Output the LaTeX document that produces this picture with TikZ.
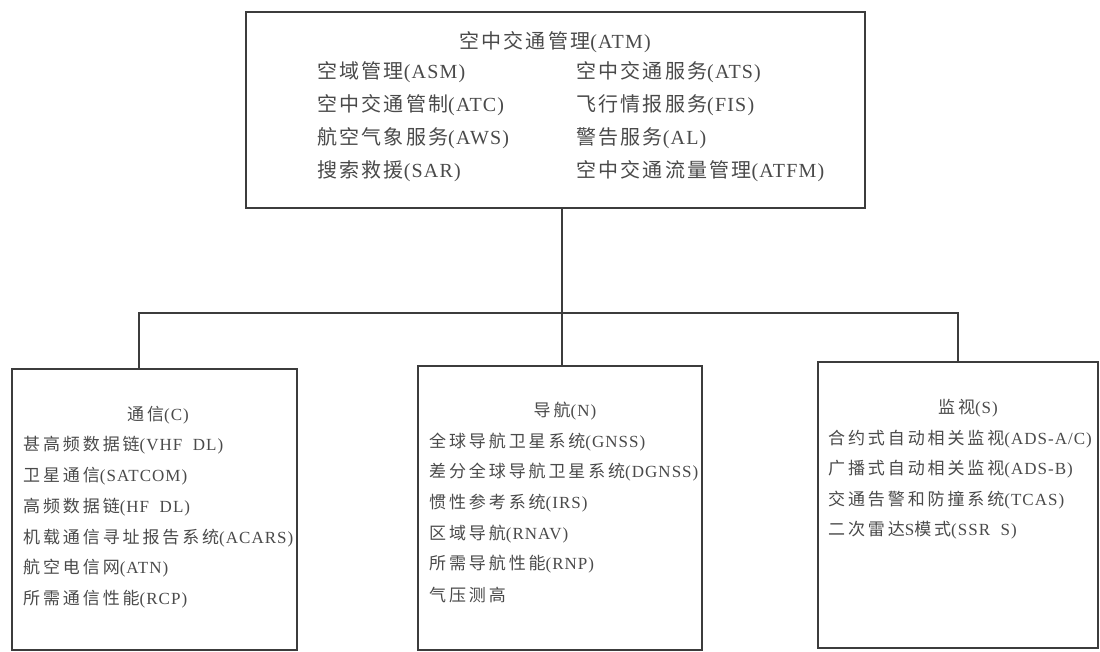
\documentclass[tikz,border=0pt]{standalone}
\usepackage{fontspec}
\setmainfont{Noto Sans CJK SC}
\newfontfamily\cjkbig[LetterSpace=11]{Noto Sans CJK SC}
\newfontfamily\cjksmall[LetterSpace=17]{Noto Sans CJK SC}
\newfontfamily\latfont[LetterSpace=6]{Liberation Serif}
\newcommand\engl[1]{{\latfont #1}}
\definecolor{ink}{HTML}{3C3C3C}
\definecolor{txtc}{HTML}{4A4A4A}
\begin{document}
\begin{tikzpicture}[x=1pt,y=-1pt,
  frame/.style={draw=ink, line width=1.8pt, inner sep=0pt, outer sep=0pt, anchor=north west},
  link/.style={draw=ink, line width=1.8pt},
  big/.style={text=txtc, font=\cjkbig\fontsize{20}{20}\selectfont, inner sep=0pt},
  small/.style={text=txtc, font=\cjksmall\fontsize{17}{17}\selectfont, inner sep=0pt}]
\useasboundingbox[fill=white] (0,0) rectangle (1100,652);

% boxes
\node[frame, minimum width=619pt, minimum height=196pt] (atm) at (246,12) {};
\node[frame, minimum width=285pt, minimum height=281pt] (com) at (12,369) {};
\node[frame, minimum width=284pt, minimum height=284pt] (nav) at (418,366) {};
\node[frame, minimum width=280pt, minimum height=286pt] (sur) at (818,362) {};

% connectors
\coordinate (jm) at (562,313);
\coordinate (jl) at (139,313);
\coordinate (jr) at (958,313);
\draw[link] (atm.south -| jm) -- (jm) -- (nav.north -| jm);
\draw[link] (com.north -| jl) -- (jl) -- (jr) -- (sur.north -| jr);

% ATM texts
\node[big] (atmT) at (555,42) {空中交通管理\engl{(ATM)}};
\node[big, anchor=west] (a1) at (317,72) {空域管理\engl{(ASM)}};
\node[big, anchor=west] (a2) at (317,105) {空中交通管制\engl{(ATC)}};
\node[big, anchor=west] (a3) at (317,138) {航空气象服务\engl{(AWS)}};
\node[big, anchor=west] (a4) at (317,171) {搜索救援\engl{(SAR)}};
\node[big, anchor=west] (b1) at (576,72) {空中交通服务\engl{(ATS)}};
\node[big, anchor=west] (b2) at (576,105) {飞行情报服务\engl{(FIS)}};
\node[big, anchor=west] (b3) at (576,138) {警告服务\engl{(AL)}};
\node[big, anchor=west] (b4) at (576,171) {空中交通流量管理\engl{(ATFM)}};

% Communication
\node[small] (comT) at (158,415) {通信\engl{(C)}};
\node[small, anchor=west] (c1) at (23,445) {甚高频数据链\engl{(VHF\ \ DL)}};
\node[small, anchor=west] (c2) at (23,476) {卫星通信\engl{(SATCOM)}};
\node[small, anchor=west] (c3) at (23,507) {高频数据链\engl{(HF\ \ DL)}};
\node[small, anchor=west] (c4) at (23,538) {机载通信寻址报告系统\engl{(ACARS)}};
\node[small, anchor=west] (c5) at (23,568) {航空电信网\engl{(ATN)}};
\node[small, anchor=west] (c6) at (23,599) {所需通信性能\engl{(RCP)}};

% Navigation
\node[small] (navT) at (565,411) {导航\engl{(N)}};
\node[small, anchor=west] (n1) at (429,442) {全球导航卫星系统\engl{(GNSS)}};
\node[small, anchor=west] (n2) at (429,472) {差分全球导航卫星系统\engl{(DGNSS)}};
\node[small, anchor=west] (n3) at (429,503) {惯性参考系统\engl{(IRS)}};
\node[small, anchor=west] (n4) at (429,534) {区域导航\engl{(RNAV)}};
\node[small, anchor=west] (n5) at (429,564) {所需导航性能\engl{(RNP)}};
\node[small, anchor=west] (n6) at (429,595) {气压测高};

% Surveillance
\node[small] (surT) at (968,408) {监视\engl{(S)}};
\node[small, anchor=west] (s1) at (828,439) {合约式自动相关监视\engl{(ADS-A/C)}};
\node[small, anchor=west] (s2) at (828,469) {广播式自动相关监视\engl{(ADS-B)}};
\node[small, anchor=west] (s3) at (828,500) {交通告警和防撞系统\engl{(TCAS)}};
\node[small, anchor=west] (s4) at (828,530) {二次雷达\engl{S}模式\engl{(SSR\ \ S)}};
\end{tikzpicture}
\end{document}
